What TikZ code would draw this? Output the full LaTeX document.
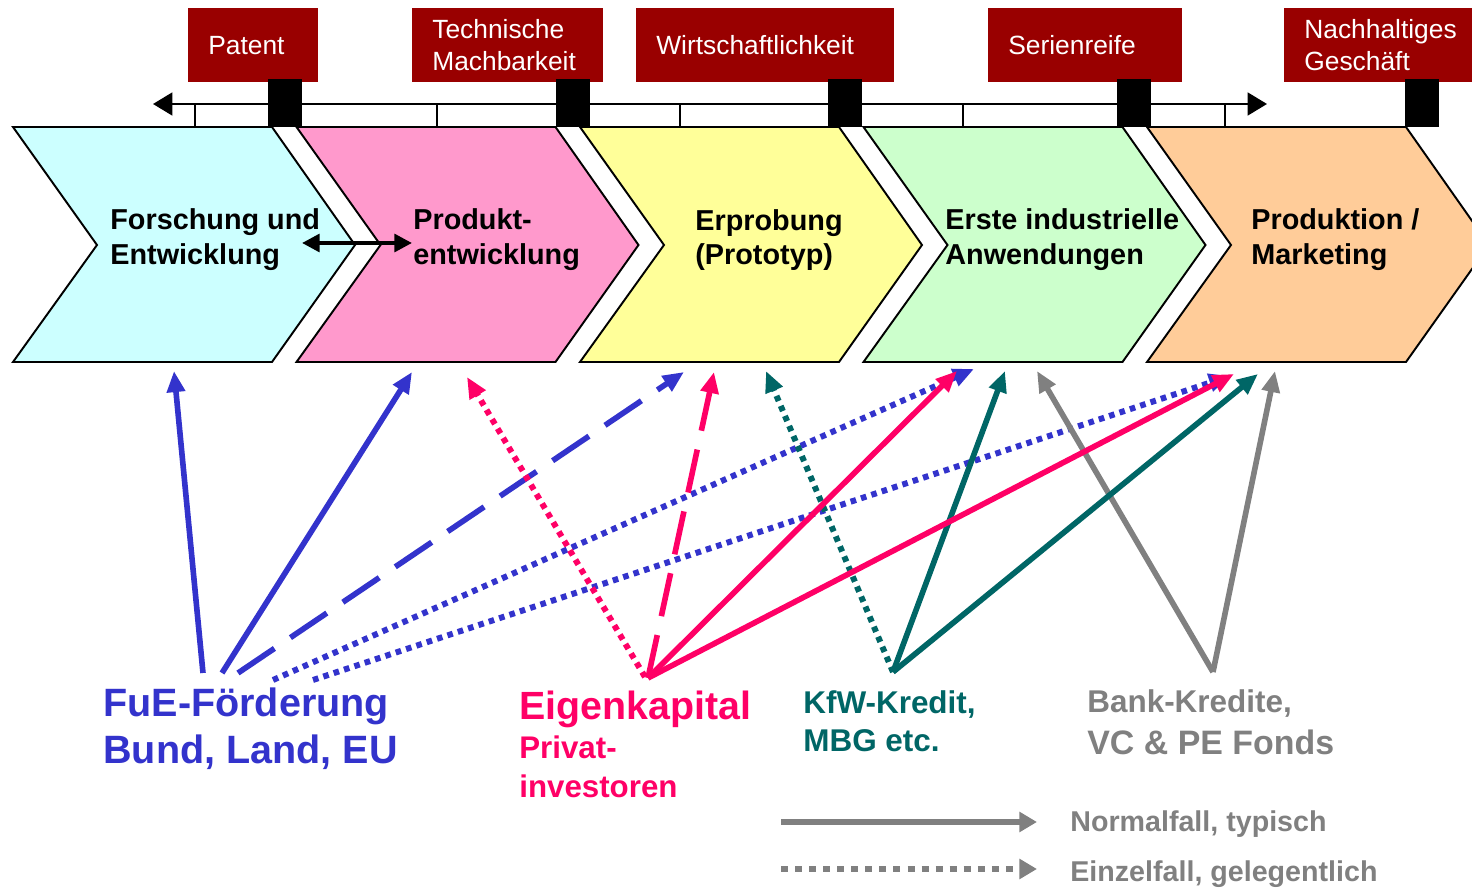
\documentclass[tikz,border=0pt]{standalone}
\usepackage{fontspec}
\setmainfont{Liberation Sans}
\usetikzlibrary{arrows.meta}
\definecolor{phcyan}{HTML}{CCFFFF}
\definecolor{phpink}{HTML}{FF99CC}
\definecolor{phyellow}{HTML}{FFFF99}
\definecolor{phgreen}{HTML}{CCFFCC}
\definecolor{phorange}{HTML}{FFCC99}
\definecolor{msred}{HTML}{990000}
\definecolor{fueblue}{HTML}{3333CC}
\definecolor{ekpink}{HTML}{FF0066}
\definecolor{kfwteal}{HTML}{006666}
\definecolor{bankgrey}{HTML}{808080}
\def\chevw{259}
\def\chevd{83}
\def\chevstep{283.5}
\tikzset{
  phase/.style={draw=black,line width=1.1pt},
  phasetext/.style={
    anchor=west,inner sep=0pt,align=left,
    font=\bfseries\fontsize{16.4}{19.8}\selectfont
},
  milestone/.style={
    fill=msred,text=white,anchor=north west,
    inner xsep=0.4cm,inner ysep=0pt,minimum height=1.48cm,align=left,
    font=\fontsize{15}{18.1}\selectfont
},
  gate/.style={fill=black},
  source/.style={inner sep=0pt,align=left},
  typisch/.style={line width=3.2pt,-{Triangle[length=12pt,width=10pt]}},
  selten/.style={typisch,line width=3.4pt,dash pattern=on 3.2pt off 3pt},
  gestrichelt/.style={typisch,dash pattern=on 25pt off 11pt}
}

\begin{document}
\begin{tikzpicture}[x=0.02cm,y=-0.02cm]
\useasboundingbox (0,0) rectangle (1472,888);
% time line
\coordinate (tl-L) at (153,104);
\coordinate (tl-R) at (1267,104);
\draw[line width=1.2pt,{Triangle[length=11pt,width=13pt]}-{Triangle[length=11pt,width=13pt]}] (tl-L) -- (tl-R);
\foreach \x in {195,437,680,963,1225}
  \draw[line width=1.1pt] (\x,104) -- (\x,127);
% phases
\foreach \c [count=\i from 0] in {phcyan,phpink,phyellow,phgreen,phorange}{
  \pgfmathsetmacro\xa{13+\chevstep*\i}
  \draw[phase,fill=\c] (\xa,127) -- ++(\chevw,0) -- ++(\chevd,118) -- ++(-\chevd,117)
    -- ++(-\chevw,0) -- ++(84,-117) -- cycle;
}
\node[phasetext] (ph-1) at (110,240) {Forschung und\\Entwicklung};
\node[phasetext] (ph-2) at (413,240) {Produkt-\\entwicklung};
\node[phasetext] (ph-3) at (695,240) {Erprobung\\(Prototyp)};
\node[phasetext] (ph-4) at (945,240) {Erste industrielle\\Anwendungen};
\node[phasetext] (ph-5) at (1251,240) {Produktion /\\Marketing};
\coordinate (dd-L) at (302,243);
\coordinate (dd-R) at (412,243);
\draw[line width=2.3pt,{Triangle[length=10pt,width=10pt]}-{Triangle[length=10pt,width=10pt]}] (dd-L) -- (dd-R);
% milestones
\node[milestone,text width=1.8cm] (ms-1) at (188,8) {Patent};
\node[milestone,text width=3.02cm] (ms-2) at (412,8) {Technische\\Machbarkeit};
\node[milestone,text width=4.36cm] (ms-3) at (636,8) {Wirtschaftlichkeit};
\node[milestone,text width=3.08cm] (ms-4) at (988,8) {Serienreife};
\node[milestone,text width=3.2cm] (ms-5) at (1284,8) {Nachhaltiges\\Geschäft};
\foreach \x in {268,556,828,1117,1405}
  \fill[gate] (\x,79) rectangle ++(34,48);
% sources
\node[source,anchor=west,text=fueblue,font=\bfseries\fontsize{22.5}{26.6}\selectfont] (fue) at (103,729) {FuE-Förderung\\Bund, Land, EU};
\node[source,anchor=base west,text=ekpink,font=\bfseries\fontsize{22.4}{26}\selectfont] (ek-label) at (519,720) {Eigenkapital};
\node[source,anchor=west,text=ekpink,font=\bfseries\fontsize{17.8}{22.1}\selectfont] (privat) at (519,767) {Privat-\\investoren};
\node[source,anchor=west,text=kfwteal,font=\bfseries\fontsize{17.9}{21.5}\selectfont] (kfw-label) at (803,721.5) {KfW-Kredit,\\MBG etc.};
\node[source,anchor=base west,text=bankgrey,font=\bfseries\fontsize{17.9}{21}\selectfont] (bank-label) at (1087,712) {Bank-Kredite,};
\node[source,anchor=base west,text=bankgrey,font=\bfseries\fontsize{19.3}{23}\selectfont] (vcpe) at (1087,754) {VC \& PE Fonds};
% arrow ends
\foreach \n/\x/\y in {fue-a/203/673,fue-b/222/673,fue-c/238/673,fue-d/273/680,fue-e/313/680,
    ek-a/645/677,ek/648/678,kfw/893/672,bank/1213/672,
    fe-a/174/371,pe-a/412/372,pe-b/467/377,er-a/684/372,er-b/714/372,er-c/766/371,
    ia-a/957/371,ia-b/974/369,ia-c/1005/371,ia-d/1037/371,
    pm-a/1230/376,pm-b/1234/374,pm-c/1258/374,pm-d/1275/371}
  \coordinate (\n) at (\x,\y);
\foreach \s/\t/\st/\c in {fue-a/fe-a/typisch/fueblue,fue-b/pe-a/typisch/fueblue,
    fue-c/er-a/gestrichelt/fueblue,fue-d/ia-b/selten/fueblue,fue-e/pm-a/selten/fueblue,
    kfw/er-c/selten/kfwteal,bank/ia-d/typisch/bankgrey,bank/pm-d/typisch/bankgrey,
    kfw/ia-c/typisch/kfwteal,kfw/pm-c/typisch/kfwteal,
    ek-a/pe-b/selten/ekpink,ek/er-b/gestrichelt/ekpink,ek/ia-a/typisch/ekpink,ek/pm-b/typisch/ekpink}
  \draw[\st,color=\c] (\s) -- (\t);
% legend
\coordinate (lg-a) at (781,822);
\coordinate (lg-b) at (1037,822);
\coordinate (lg-c) at (781,869);
\coordinate (lg-d) at (1037,869);
\draw[line width=3.2pt,color=bankgrey,-{Triangle[length=10pt,width=11pt]}] (lg-a) -- (lg-b);
\draw[line width=3.4pt,color=bankgrey,dash pattern=on 4pt off 4pt,-{Triangle[length=10pt,width=11pt]}] (lg-c) -- (lg-d);
\node[source,anchor=base west,text=bankgrey,font=\bfseries\fontsize{16.3}{19}\selectfont] (normal) at (1070,831) {Normalfall, typisch};
\node[source,anchor=base west,text=bankgrey,font=\bfseries\fontsize{16.3}{19}\selectfont] (einzel) at (1070,881) {Einzelfall, gelegentlich};
\end{tikzpicture}
\end{document}
